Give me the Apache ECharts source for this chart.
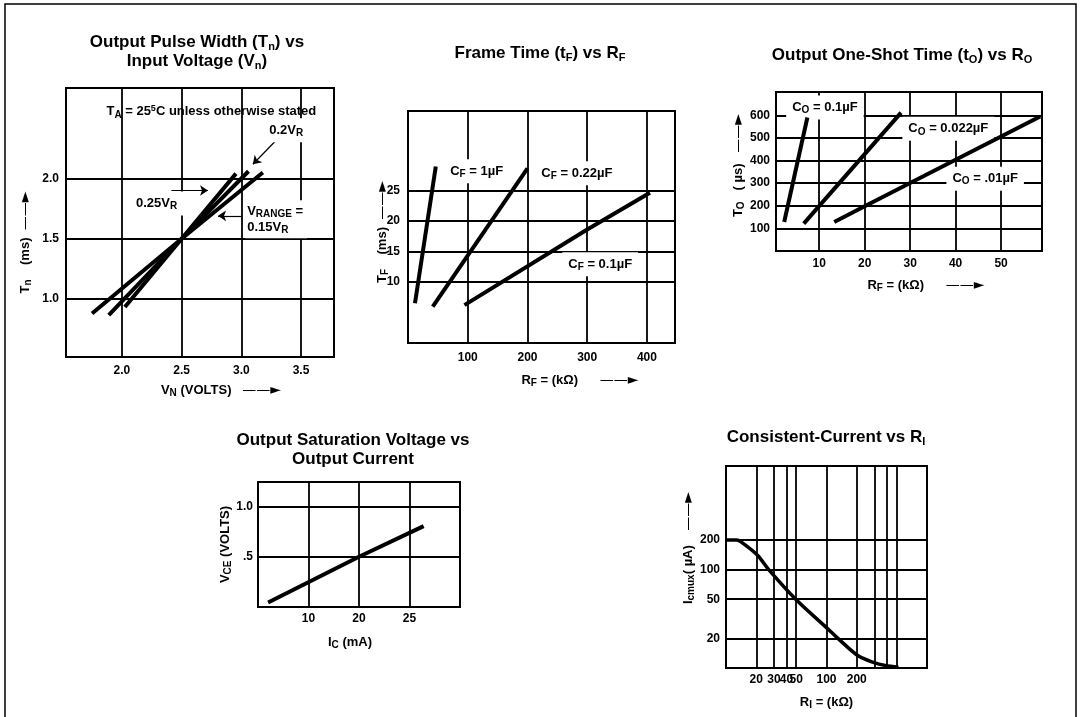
<!DOCTYPE html>
<html><head><meta charset="utf-8">
<script src="https://cdn.jsdelivr.net/npm/echarts@6/dist/echarts.min.js"></script>
<style>html,body{margin:0;padding:0;background:#fff}#c{width:1081px;height:717px}</style>
</head><body><div id="c"></div>
<script>
// ================= DATA =================
// Panel 1: Output Pulse Width vs Input Voltage
const p1XTicks = [2.0, 2.5, 3.0, 3.5];
const p1XLabels = ['2.0', '2.5', '3.0', '3.5'];
const p1YTicks = [1.0, 1.5, 2.0];
const p1YLabels = ['1.0', '1.5', '2.0'];
const p1_015VR = [[1.75, 0.88], [2.5, 1.5], [3.18, 2.05]];
const p1_02VR  = [[1.89, 0.867], [2.5, 1.5], [3.06, 2.06]];
const p1_025VR = [[2.025, 0.935], [2.5, 1.5], [2.955, 2.04]];

// Panel 2: Frame Time vs RF
const p2XTicks = [100, 200, 300, 400];
const p2XLabels = ['100', '200', '300', '400'];
const p2YTicks = [10, 15, 20, 25];
const p2YLabels = ['10', '15', '20', '25'];
const p2_CF1   = [[11.7, 6.5], [46.5, 28.9]];
const p2_CF022 = [[41.4, 5.95], [200, 28.6]];
const p2_CF01  = [[94.5, 6.2], [300, 18.6], [405, 24.6]];

// Panel 3: Output One-Shot Time vs RO
const p3XTicks = [10, 20, 30, 40, 50];
const p3XLabels = ['10', '20', '30', '40', '50'];
const p3YTicks = [100, 200, 300, 400, 500, 600];
const p3YLabels = ['100', '200', '300', '400', '500', '600'];
const p3_CO01   = [[2.3, 128], [7.4, 590]];
const p3_CO0022 = [[6.6, 121], [28.0, 612]];
const p3_CO001  = [[13.3, 128], [20, 198], [58.6, 595]];

// Panel 4: Output Saturation Voltage vs Output Current
const p4XTicks = [10, 20, 30];
const p4XLabels = ['10', '20', '25'];
const p4YTicks = [0.5, 1.0];
const p4YLabels = ['.5', '1.0'];
const p4_VCE = [[2, 0.045], [20, 0.5], [32.8, 0.805]];

// Panel 5: Consistent-Current vs RI (log-log)
const p5XGrid = [20, 30, 40, 50, 100, 200, 300, 400, 500];
const p5XTicks = [20, 30, 40, 50, 100, 200];
const p5XLabels = ['20', '30', '40', '50', '100', '200'];
const p5YTicks = [20, 50, 100, 200];
const p5YLabels = ['20', '50', '100', '200'];
const p5_Icmax = [[10, 200], [12.8, 200], [14.9, 184], [20.6, 140], [26.6, 100], [49.4, 50],
                  [103, 25], [130, 20], [206, 13.3], [293, 11.4], [384, 10.6], [520, 10.2]];

// ================= CHART =================
const FONT = "'Liberation Sans', Arial, Helvetica, sans-serif";
const ARROW = {fontFamily: 'DejaVu Sans', fontSize: 14, fontWeight: 'normal', lineHeight: 16};
const NAME_RICH = {
  sub: {fontSize: 10, fontWeight: 'bold', fontFamily: FONT, lineHeight: 9, verticalAlign: 'bottom'},
  arr: ARROW
};
const NOTE_RICH = {
  sub: {fontSize: 10, fontWeight: 'bold', fontFamily: FONT, lineHeight: 9, verticalAlign: 'bottom'},
  sup: {fontSize: 9, fontWeight: 'bold', fontFamily: FONT, lineHeight: 9, verticalAlign: 'top'}
};
const TITLE_RICH = {
  sub: {fontSize: 11, fontWeight: 'bold', fontFamily: FONT, lineHeight: 12, verticalAlign: 'bottom'}
};

function fmt(ticks, labels) {
  return function (v) {
    for (let i = 0; i < ticks.length; i++) {
      if (Math.abs(ticks[i] - v) < 1e-6 * Math.max(1, Math.abs(v))) return labels[i];
    }
    return '';
  };
}

function axis(gi, min, max, ticks, labels, gridVals, margin, name, gap, pad, type) {
  const ax = {
    type: type || 'value', gridIndex: gi, min: min, max: max,
    axisLine: {show: false},
    axisTick: {show: false, customValues: gridVals || ticks},
    axisLabel: {customValues: ticks, formatter: fmt(ticks, labels), margin: margin,
      color: '#000', fontWeight: 'bold', fontFamily: FONT, fontSize: 12, hideOverlap: false},
    splitLine: {show: true, lineStyle: {color: '#000', width: 1.8}},
    minorTick: {show: false}, minorSplitLine: {show: false},
    name: name, nameLocation: 'middle', nameGap: gap, nameMoveOverlap: false,
    nameTextStyle: {color: '#000', fontWeight: 'bold', fontFamily: FONT, fontSize: 13,
      lineHeight: 16, padding: pad, rich: NAME_RICH}
  };
  if (type === 'log') ax.logBase = 10;
  return ax;
}

function ser(gi, data, extra) {
  return Object.assign({
    type: 'line', xAxisIndex: gi, yAxisIndex: gi, data: data, symbol: 'none', showSymbol: false,
    silent: true, z: 5, lineStyle: {color: '#000', width: 4, cap: 'butt'}
  }, extra || {});
}

function notes(items) {
  return {
    symbol: 'circle', symbolSize: 1, silent: true, itemStyle: {color: 'rgba(0,0,0,0)'},
    label: {show: true, position: 'inside', color: '#000', fontWeight: 'bold', fontFamily: FONT,
      fontSize: 13, lineHeight: 16, rich: NOTE_RICH},
    data: items.map(function (it) {
      return {coord: it.c, label: Object.assign({formatter: function () { return it.t; }}, it.l || {})};
    })
  };
}

function arrows(list) {
  return {
    silent: true, symbol: ['none', 'arrow'], symbolSize: 8, label: {show: false},
    lineStyle: {color: '#000', width: 1.2, type: 'solid'},
    data: list.map(function (a) { return [{coord: a[0]}, {coord: a[1]}]; })
  };
}

const WHITE = {backgroundColor: '#fff', padding: [4, 6]};

const grids = [
  {left: 66, top: 88, width: 268, height: 269},
  {left: 408, top: 111, width: 267, height: 232},
  {left: 776, top: 92, width: 266, height: 159},
  {left: 258, top: 482, width: 202, height: 125},
  {left: 726, top: 466, width: 201, height: 202}
].map(function (g) {
  return Object.assign({show: true, borderColor: '#000', borderWidth: 2, backgroundColor: '#fff',
    containLabel: false, outerBoundsMode: 'none'}, g);
});

const titleStyle = {color: '#000', fontWeight: 'bold', fontFamily: FONT, fontSize: 17, lineHeight: 19, rich: TITLE_RICH};
function ttl(text, x, y) {
  return {text: text, left: x, top: y, textAlign: 'center', padding: 0, textStyle: titleStyle};
}

const option = {
  animation: false,
  backgroundColor: '#fff',
  title: [
    ttl('Output Pulse Width (T{sub|n}) vs\nInput Voltage (V{sub|n})', 197, 33),
    ttl('Frame Time (t{sub|F}) vs R{sub|F}', 540, 44),
    ttl('Output One-Shot Time (t{sub|O}) vs R{sub|O}', 902, 46),
    ttl('Output Saturation Voltage vs\nOutput Current', 353, 431),
    ttl('Consistent-Current vs R{sub|I}', 826, 428)
  ],
  grid: grids,
  xAxis: [
    axis(0, 1.532, 3.776, p1XTicks, p1XLabels, null, 8, 'V{sub|N} (VOLTS)   {arr|——►}', 25, [0, 0, 0, 42]),
    axis(1, 0, 447, p2XTicks, p2XLabels, null, 9, 'R{sub|F} = (kΩ)      {arr|——►}', 29, [0, 0, 0, 77]),
    axis(2, 0.5, 59, p3XTicks, p3XLabels, null, 7, 'R{sub|F} = (kΩ)      {arr|——►}', 26, [0, 0, 0, 34]),
    axis(3, 0, 40, p4XTicks, p4XLabels, null, 6, 'I{sub|C} (mA)', 27, [0, 18, 0, 0]),
    axis(4, 10, 1000, p5XTicks, p5XLabels, p5XGrid, 6, 'R{sub|I} = (kΩ)', 26, [0, 0, 0, 0], 'log')
  ],
  yAxis: [
    axis(0, 0.52, 2.75, p1YTicks, p1YLabels, null, 7, 'T{sub|n}    (ms)  {arr|——►}', 33, [0, 40, 0, 0]),
    axis(1, 0, 38, p2YTicks, p2YLabels, null, 8, 'T{sub|F}    (ms)  {arr|——►}', 18, [0, 10, 0, 0]),
    axis(2, 0, 703, p3YTicks, p3YLabels, null, 6, 'T{sub|O}   ( µs)   {arr|——►}', 30, [0, 0, 0, 12]),
    axis(3, 0, 1.244, p4YTicks, p4YLabels, null, 5, 'V{sub|CE} (VOLTS)', 25, [0, 0, 0, 0]),
    axis(4, 10, 1130, p5YTicks, p5YLabels, null, 6, 'I{sub|cmux}( µA)    {arr|——►}', 30, [0, 0, 0, 38], 'log')
  ],
  series: [
    ser(0, p1_015VR, {
      markPoint: notes([
        {c: [2.749, 2.552], t: 'T{sub|A} = 25{sup|5}C unless otherwise stated'},
        {c: [3.376, 2.40], t: '0.2V{sub|R}', l: WHITE},
        {c: [2.290, 1.793], t: '0.25V{sub|R}', l: WHITE},
        {c: [3.028, 1.661], t: 'V{sub|RANGE} =\n0.15V{sub|R}',
          l: {position: 'right', distance: 0, align: 'left', backgroundColor: '#fff', padding: [3, 4, 3, 2]}}
      ]),
      markLine: arrows([
        [[3.306, 2.331], [3.097, 2.118]],
        [[2.415, 1.90], [2.721, 1.90]],
        [[3.00, 1.69], [2.805, 1.69]]
      ])
    }),
    ser(0, p1_02VR),
    ser(0, p1_025VR),

    ser(1, p2_CF1, {
      markPoint: notes([
        {c: [115, 28.15], t: 'C{sub|F} = 1µF', l: WHITE},
        {c: [282.7, 27.8], t: 'C{sub|F} = 0.22µF', l: WHITE},
        {c: [321.8, 12.9], t: 'C{sub|F} = 0.1µF', l: WHITE}
      ])
    }),
    ser(1, p2_CF022),
    ser(1, p2_CF01),

    ser(2, p3_CO01, {
      markPoint: notes([
        {c: [11.26, 635], t: 'C{sub|O} = 0.1µF', l: WHITE},
        {c: [38.4, 540], t: 'C{sub|O} = 0.022µF', l: WHITE},
        {c: [46.5, 319.5], t: 'C{sub|O} = .01µF', l: WHITE}
      ])
    }),
    ser(2, p3_CO0022),
    ser(2, p3_CO001),

    ser(3, p4_VCE),

    ser(4, p5_Icmax, {smooth: 0.3, lineStyle: {color: '#000', width: 3.5, cap: 'butt'}})
  ],
  graphic: [
    {type: 'rect', shape: {x: 5, y: 4, width: 1071, height: 740}, style: {fill: 'none', stroke: '#000', lineWidth: 1.5}, z: 100}
  ]
};

const chart = echarts.init(document.getElementById('c'), null, {renderer: 'canvas'});
chart.setOption(option);
</script>
</body></html>
